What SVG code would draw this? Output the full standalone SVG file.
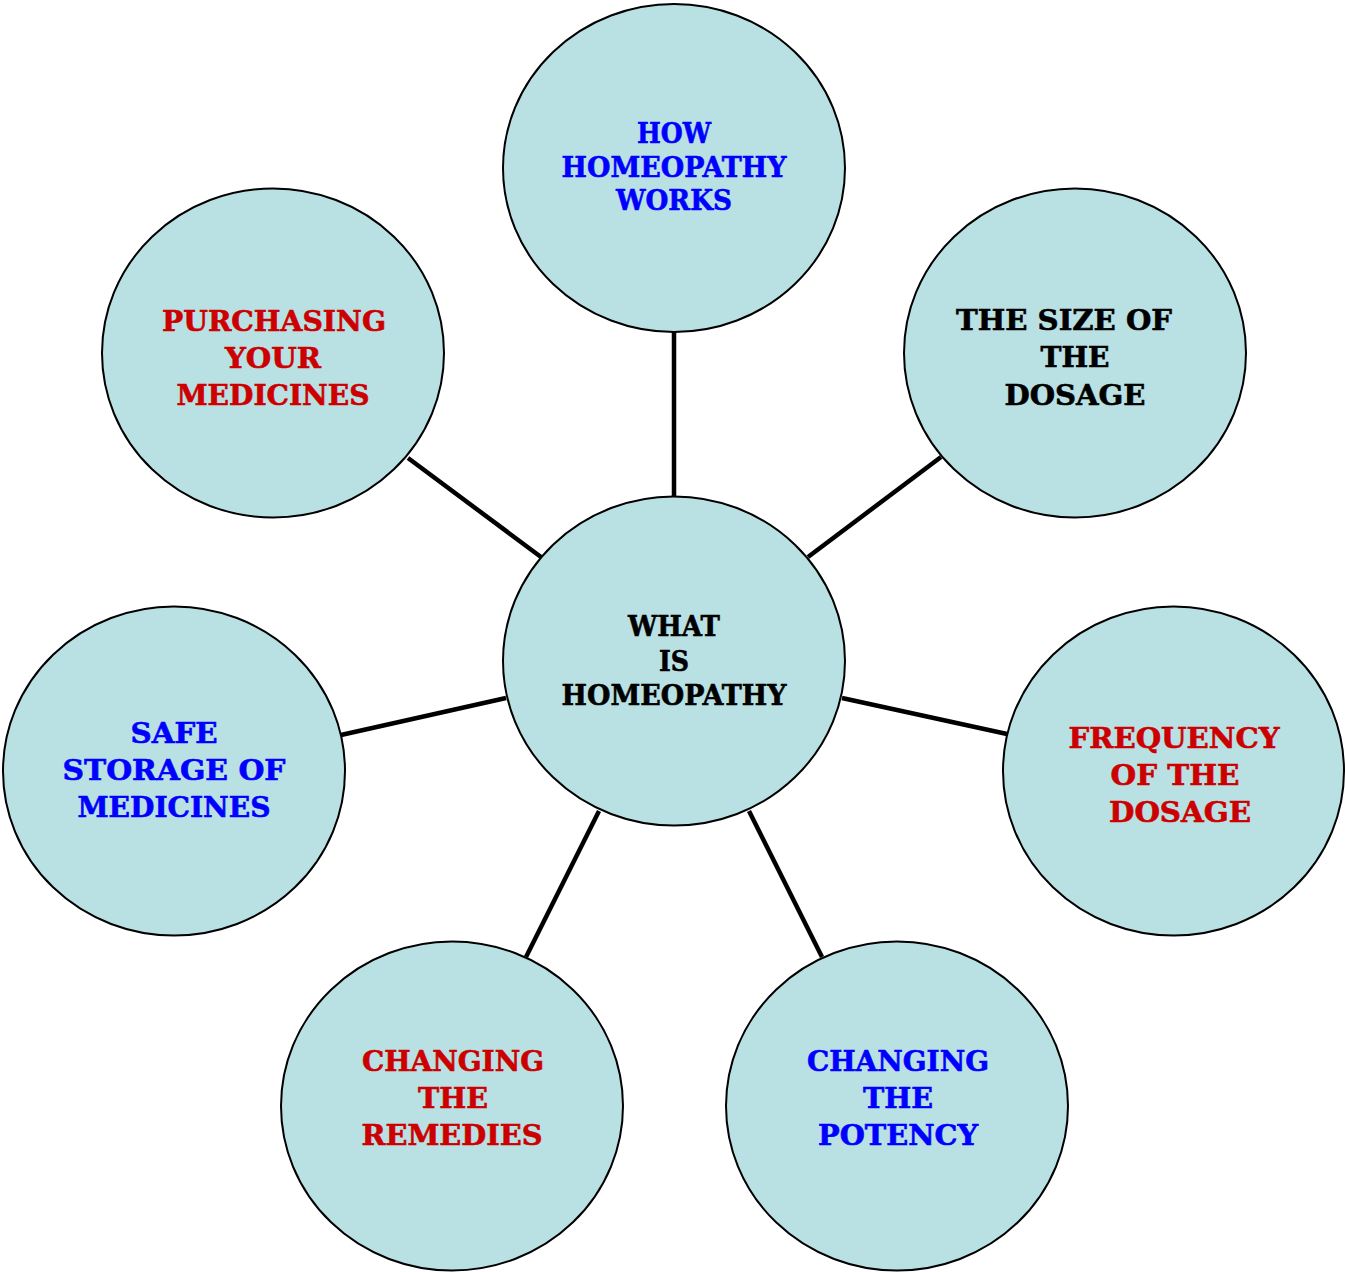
<svg xmlns="http://www.w3.org/2000/svg" width="1345" height="1272" viewBox="0 0 1345 1272">
<style>
.n{fill:#b9e0e3;stroke:#000;stroke-width:2}
.c line{stroke:#000;stroke-width:4.5}
text{font-family:"DejaVu Serif","Liberation Serif",serif;font-weight:bold;font-size:28px;text-anchor:middle;stroke-width:0.6}
.b{fill:#0000ff;stroke:#0000ff}.r{fill:#cc0000;stroke:#cc0000}.k{fill:#000;stroke:#000}
</style>
<rect width="1345" height="1272" fill="#fff"/>
<g class="c" id="connectors">
<line x1="674" y1="332" x2="674" y2="497"/>
<line x1="408" y1="458" x2="541" y2="557"/>
<line x1="941" y1="457" x2="808" y2="557"/>
<line x1="341" y1="735" x2="506" y2="698"/>
<line x1="842" y1="698" x2="1007" y2="734"/>
<line x1="599" y1="811" x2="526" y2="957"/>
<line x1="749" y1="811" x2="822" y2="957"/>
</g>
<g id="top"><ellipse class="n" cx="674" cy="168" rx="171" ry="164"/>
<text class="b" x="674" y="143" textLength="74" lengthAdjust="spacingAndGlyphs">HOW</text>
<text class="b" x="674" y="177" textLength="225" lengthAdjust="spacingAndGlyphs">HOMEOPATHY</text>
<text class="b" x="674" y="210" textLength="116" lengthAdjust="spacingAndGlyphs">WORKS</text></g>
<g id="topleft"><ellipse class="n" cx="273" cy="353" rx="171" ry="164.5"/>
<text class="r" x="274" y="331" textLength="224" lengthAdjust="spacingAndGlyphs">PURCHASING</text>
<text class="r" x="273" y="368" textLength="96" lengthAdjust="spacingAndGlyphs">YOUR</text>
<text class="r" x="273" y="405" textLength="193" lengthAdjust="spacingAndGlyphs">MEDICINES</text></g>
<g id="topright"><ellipse class="n" cx="1075" cy="353" rx="171" ry="164.5"/>
<text class="k" x="1064" y="330" textLength="216" lengthAdjust="spacingAndGlyphs">THE SIZE OF</text>
<text class="k" x="1075" y="367" textLength="69" lengthAdjust="spacingAndGlyphs">THE</text>
<text class="k" x="1075" y="405" textLength="141" lengthAdjust="spacingAndGlyphs">DOSAGE</text></g>
<g id="center"><ellipse class="n" cx="674" cy="661" rx="171" ry="164.5"/>
<text class="k" x="674" y="636" textLength="92" lengthAdjust="spacingAndGlyphs">WHAT</text>
<text class="k" x="674" y="671" textLength="30" lengthAdjust="spacingAndGlyphs">IS</text>
<text class="k" x="674" y="705" textLength="225" lengthAdjust="spacingAndGlyphs">HOMEOPATHY</text></g>
<g id="left"><ellipse class="n" cx="174" cy="771" rx="171" ry="164.5"/>
<text class="b" x="174" y="743" textLength="87" lengthAdjust="spacingAndGlyphs">SAFE</text>
<text class="b" x="174" y="780" textLength="223" lengthAdjust="spacingAndGlyphs">STORAGE OF</text>
<text class="b" x="174" y="817" textLength="193" lengthAdjust="spacingAndGlyphs">MEDICINES</text></g>
<g id="right"><ellipse class="n" cx="1173.5" cy="771" rx="170.5" ry="164.5"/>
<text class="r" x="1174" y="748" textLength="211" lengthAdjust="spacingAndGlyphs">FREQUENCY</text>
<text class="r" x="1175" y="785" textLength="129" lengthAdjust="spacingAndGlyphs">OF THE</text>
<text class="r" x="1180" y="822" textLength="142" lengthAdjust="spacingAndGlyphs">DOSAGE</text></g>
<g id="bottomleft"><ellipse class="n" cx="452" cy="1106" rx="171" ry="164.5"/>
<text class="r" x="453" y="1071" textLength="182" lengthAdjust="spacingAndGlyphs">CHANGING</text>
<text class="r" x="453" y="1108" textLength="70" lengthAdjust="spacingAndGlyphs">THE</text>
<text class="r" x="452" y="1145" textLength="181" lengthAdjust="spacingAndGlyphs">REMEDIES</text></g>
<g id="bottomright"><ellipse class="n" cx="897" cy="1106" rx="171" ry="164.5"/>
<text class="b" x="898" y="1071" textLength="182" lengthAdjust="spacingAndGlyphs">CHANGING</text>
<text class="b" x="898" y="1108" textLength="70" lengthAdjust="spacingAndGlyphs">THE</text>
<text class="b" x="898" y="1145" textLength="160" lengthAdjust="spacingAndGlyphs">POTENCY</text></g>
</svg>
